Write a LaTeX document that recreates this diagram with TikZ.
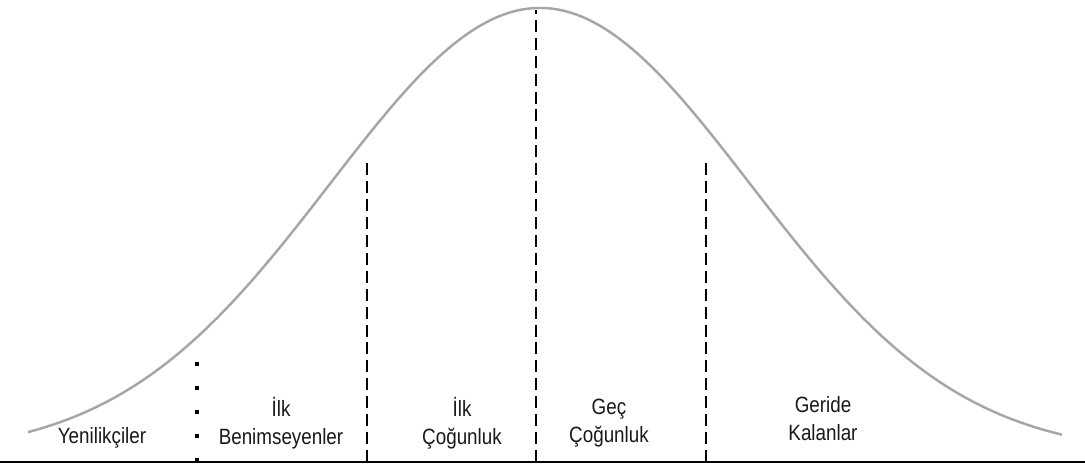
\documentclass[tikz,border=0pt]{standalone}
\usepackage{fontspec}
\setmainfont{Liberation Sans}[FakeStretch=0.85]
\usepackage{tikz}
\usetikzlibrary{positioning,calc}

\tikzset{
    curve/.style={line width=1.4pt, gray!70},
    divider/.style={line width=1.1pt, black, dash pattern=on 6.8pt off 3.4pt},
    dotdivider/.style={line width=2.2pt, black, dash pattern=on 2.3pt off 11.3pt},
    lbl/.style={align=center, inner sep=0pt, text=black!90, font=\fontsize{12.6}{15.9}\selectfont}
}

\begin{document}
\begin{tikzpicture}[x=2cm, y=2cm]
    \useasboundingbox (0,0) rectangle (10.85,4.68);

    % Bell curve
    \draw[curve] plot[domain=0.28:10.62, samples=120, smooth]
        (\x, {0.13 + 4.47*exp(-((\x-5.40)^2)/(2*2.10^2))});

    % Ground line
    \draw[line width=1.7pt] (0,0.06) -- (10.85,0.06);

    % Category borders
    \draw[dotdivider] (1.97,0.06) -- (1.97,1.12);
    \draw[divider] (3.67,0.06) -- (3.67,3.08);
    \draw[divider] (5.36,0.06) -- (5.36,4.58);
    \draw[divider] (7.06,0.06) -- (7.06,3.08);

    % Labels
    \node[lbl] (innov) at (1.02,0.305) {Yenilikçiler};
    \node[lbl] (early) at (2.81,0.45) {İlk\\Benimseyenler};
    \node[lbl] (earlymaj) at (4.62,0.45) {İlk\\Çoğunluk};
    \node[lbl] (latemaj) at (6.09,0.445) {Geç\\Çoğunluk};
    \node[lbl] (lagg) at (8.23,0.49) {Geride\\Kalanlar};
\end{tikzpicture}
\end{document}
